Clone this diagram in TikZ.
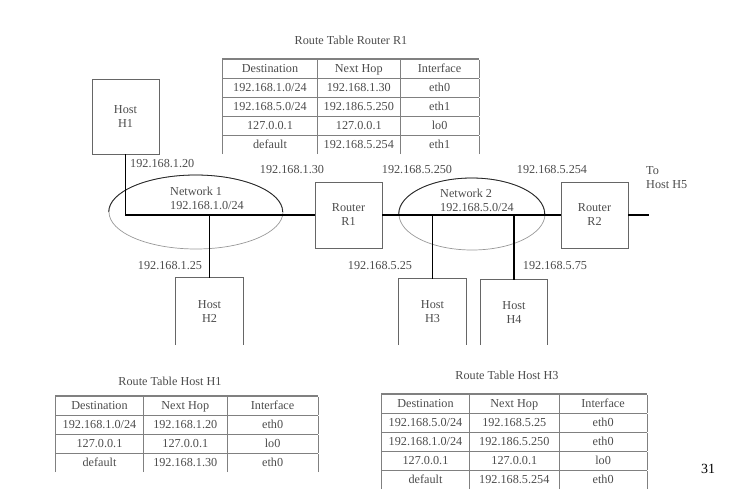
\documentclass[tikz,border=0pt]{standalone}
\usepackage{fontspec}
\setmainfont{Liberation Serif}
\usepackage{array}
\usepackage{colortbl}
\usetikzlibrary{shapes.geometric}
\definecolor{inkgray}{gray}{0.3}
\definecolor{rulegray}{gray}{0.5}
\newcolumntype{C}[1]{>{\centering\arraybackslash}p{#1}}
\newcommand{\tabtopline}{\noalign{\global\arrayrulewidth=1.8pt}\hline\noalign{\global\arrayrulewidth=0.8pt}}
\renewcommand{\arraystretch}{1.3}
\arrayrulecolor{rulegray}
\setlength{\arrayrulewidth}{0.8pt}
\setlength{\tabcolsep}{0pt}
\tikzstyle{every node} = [font=\fontsize{12.2}{14}\selectfont, text=inkgray, inner sep=0pt]
\tikzstyle{devbox} = [draw=black!60, line width=0.9pt, rectangle,
    minimum width=67pt, minimum height=66pt, align=center]
\tikzstyle{hostbox} = [rectangle, minimum width=67pt, minimum height=67pt, align=center]
\tikzstyle{boxside} = [draw=black!60, line width=0.9pt]
\tikzstyle{netcloud} = [draw=black!40, line width=0.7pt, ellipse, inner sep=0pt]
\tikzstyle{netarc} = [draw=black!85, line width=0.8pt]
\tikzstyle{wire} = [line width=1.6pt, black]
\tikzstyle{tabnode} = [anchor=north west]

\begin{document}
\begin{tikzpicture}[x=1pt, y=-1pt]
\useasboundingbox (0,0) rectangle (750,498);

% route table of router R1
\node (titleR1) at (351,40) {Route Table Router R1};
\node[tabnode] (tabR1) at (222,58) {
    \begin{tabular}{|C{94pt}|C{82pt}|C{78pt}|}
    \tabtopline
    Destination & Next Hop & Interface\\ \hline
    192.168.1.0/24 & 192.168.1.30 & eth0\\ \hline
    192.168.5.0/24 & 192.186.5.250 & eth1\\ \hline
    127.0.0.1 & 127.0.0.1 & lo0\\ \hline
    default & 192.168.5.254 & eth1
    \end{tabular}
};

% networks
\node[netcloud, minimum width=174pt, minimum height=74pt] (net1) at (196,212) {};
\node[netcloud, minimum width=146pt, minimum height=72pt] (net2) at (472,214) {};
\draw[netarc] (net1.west) arc[start angle=180, end angle=360, x radius=87, y radius=37];
\draw[netarc] (net2.west) arc[start angle=180, end angle=360, x radius=73, y radius=36];
\node[anchor=west, align=left] (lblNet1) at (170,198.5) {Network 1\\192.168.1.0/24};
\node[anchor=west, align=left] (lblNet2) at (440,200) {Network 2\\192.168.5.0/24};

% hosts and routers
\node[devbox, minimum height=75pt] (h1) at (125.5,116.5) {Host\\H1};
\node[devbox] (r1) at (348.5,215) {Router\\R1};
\node[devbox] (r2) at (594.5,215) {Router\\R2};
\node[hostbox] (h2) at (209.5,311.5) {Host\\H2};
\node[hostbox, minimum height=66pt] (h3) at (432.5,312) {Host\\H3};
\node[hostbox, minimum width=66pt, minimum height=65pt] (h4) at (514,312.5) {Host\\H4};
\foreach \h in {h2,h3,h4}
    \draw[boxside] (\h.south west) |- (\h.north east) -- (\h.south east);

% wires
\coordinate (toH5) at (649,215);
\draw[wire] (h1.south) |- (r1.west);
\draw[wire] (h2.north) -- (h2.north |- r1.west);
\draw[wire] (r1.east) -- (r2.west);
\draw[wire] (h3.north) -- (h3.north |- r1.east);
\draw[wire] (h4.north) -- (h4.north |- r1.east);
\draw[wire] (r2.east) -- (toH5);

% addresses
\node[anchor=west] (ipH1) at (130,164) {192.168.1.20};
\node (ipR1a) at (292,170) {192.168.1.30};
\node (ipR1b) at (417,170) {192.168.5.250};
\node (ipR2) at (552,170) {192.168.5.254};
\node (ipH2) at (170,266) {192.168.1.25};
\node (ipH3) at (380,266) {192.168.5.25};
\node (ipH4) at (555,266) {192.168.5.75};
\node[anchor=west, align=left] (toHost) at (646,178) {To\\Host H5};

% route tables of hosts H1 and H3
\node (titleH1) at (170,381) {Route Table Host H1};
\node[tabnode] (tabH1) at (55,395) {
    \begin{tabular}{|C{87pt}|C{83pt}|C{90pt}|}
    \tabtopline
    Destination & Next Hop & Interface\\ \hline
    192.168.1.0/24 & 192.168.1.20 & eth0\\ \hline
    127.0.0.1 & 127.0.0.1 & lo0\\ \hline
    default & 192.168.1.30 & eth0
    \end{tabular}
};
\node (titleH3) at (507,375) {Route Table Host H3};
\node[tabnode] (tabH3) at (381,393) {
    \begin{tabular}{|C{87pt}|C{89pt}|C{87pt}|}
    \tabtopline
    Destination & Next Hop & Interface\\ \hline
    192.168.5.0/24 & 192.168.5.25 & eth0\\ \hline
    192.168.1.0/24 & 192.186.5.250 & eth0\\ \hline
    127.0.0.1 & 127.0.0.1 & lo0\\ \hline
    default & 192.168.5.254 & eth0
    \end{tabular}
};
\node[text=black, font=\fontsize{14}{16}\selectfont] (pageno) at (708,469) {31};
\end{tikzpicture}
\end{document}
